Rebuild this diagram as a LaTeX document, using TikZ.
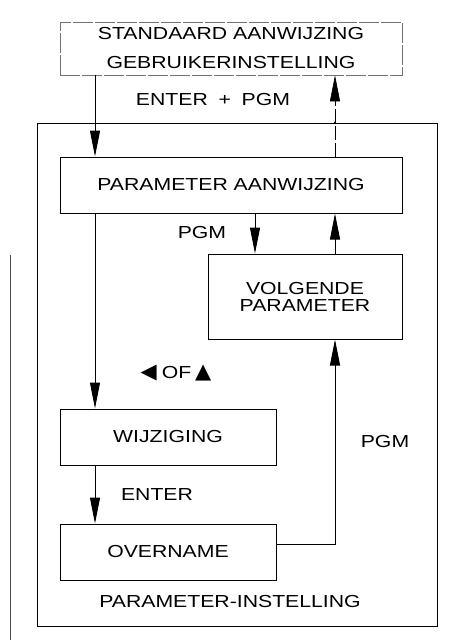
\documentclass[tikz,border=0pt]{standalone}
\usepackage{fontspec}
\setmainfont[FakeStretch=1.22]{Liberation Sans}
\newfontfamily\symfont{DejaVu Sans}
\usetikzlibrary{arrows.meta,calc}
\begin{document}
\begin{tikzpicture}[x=1pt,y=-1pt,
  box/.style={draw,line width=1pt,inner sep=0pt,font=\fontsize{17.4}{18}\selectfont,align=center},
  lbl/.style={inner sep=0pt,font=\fontsize{17.4}{18}\selectfont},
  arr/.style={line width=1pt,-{Triangle[length=26pt,width=10pt]}}]
\useasboundingbox (0,0) rectangle (449,640);
% scan edge line
\draw[line width=0.6pt,black!70] (10,255) -- (10,640);
% outer frame
\node[draw,line width=0.7pt,minimum width=400pt,minimum height=503pt,inner sep=0pt] (outer) at (237,374.5) {};
\node[lbl] (pi) at (230,602) {PARAMETER-INSTELLING};
% top box
\node[box,draw=black!55,line width=0.6pt,dash pattern=on 20pt off 2pt,minimum width=342pt,minimum height=53pt,font=\fontsize{17.4}{29}\selectfont] (top) at (231,48.5) {STANDAARD AANWIJZING\\GEBRUIKERINSTELLING};
% boxes
\node[box,minimum width=342pt,minimum height=56pt] (pa) at (231,185) {PARAMETER AANWIJZING};
\node[box,minimum width=194pt,minimum height=85pt,font=\fontsize{17.4}{17}\selectfont] (vp) at (305,296.5) {VOLGENDE\\PARAMETER};
\node[box,minimum width=216pt,minimum height=56pt] (wz) at (168,437) {WIJZIGING};
\node[box,minimum width=216pt,minimum height=56pt] (ov) at (168,552) {OVERNAME};
% labels
\node[lbl] (ep) at (213,100) {ENTER \;+\; PGM};
\node[lbl] (pgm1) at (202,233) {PGM};
\node[lbl] (of) at (176,373) {{\symfont\fontsize{21}{18}\selectfont ◀}\hspace{5pt}OF\hspace{4pt}{\symfont\fontsize{21}{18}\selectfont ▲}};
\node[lbl] (pgm2) at (385,442) {PGM};
\node[lbl] (ent) at (157,495) {ENTER};
% helper x positions
\coordinate (L) at (95,0);
\coordinate (M) at (255,0);
\coordinate (R) at (335,0);
\coordinate (OE) at (276,544);
% connectors
\draw[arr] (top.south -| L) -- (pa.north -| L);
\draw[arr,line width=0.6pt,dash pattern=on 14pt off 3pt] (pa.north -| R) -- (top.south -| R);
\fill (outer.north -| R) circle (1.2pt);
\draw[arr] (pa.south -| M) -- (vp.north -| M);
\draw[arr] (vp.north -| R) -- (pa.south -| R);
\draw[arr] (pa.south -| L) -- (wz.north -| L);
\draw[arr] (wz.south -| L) -- (ov.north -| L);
\draw[arr] (OE) -| (vp.south -| R);
\end{tikzpicture}
\end{document}
